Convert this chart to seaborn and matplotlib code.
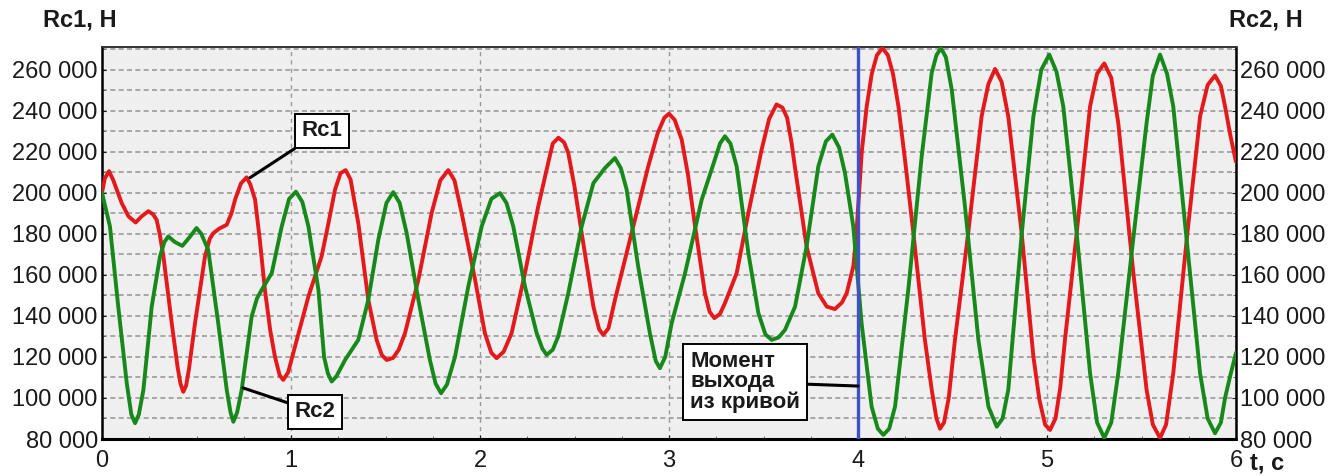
import matplotlib
matplotlib.use("Agg")
import matplotlib.pyplot as plt
import pandas as pd
import seaborn as sns
from matplotlib.ticker import FuncFormatter, MultipleLocator, FixedLocator

# ---------------- data ----------------
t_rc1 = [0.000, 0.015, 0.037, 0.060, 0.104, 0.140, 0.178, 0.210, 0.245, 0.270,
         0.289, 0.305, 0.325, 0.369, 0.400, 0.415, 0.430, 0.445, 0.460, 0.492,
         0.545, 0.570, 0.589, 0.620, 0.660, 0.685, 0.704, 0.735, 0.765, 0.785,
         0.810, 0.835, 0.862, 0.890, 0.915, 0.940, 0.959, 0.985, 1.021, 1.092,
         1.162, 1.200, 1.233, 1.262, 1.289, 1.315, 1.356, 1.409, 1.453, 1.480,
         1.506, 1.540, 1.570, 1.603, 1.674, 1.744, 1.790, 1.832, 1.865, 1.903,
         1.974, 2.026, 2.060, 2.088, 2.125, 2.167, 2.238, 2.308, 2.362, 2.385,
         2.415, 2.445, 2.467, 2.500, 2.538, 2.600, 2.630, 2.652, 2.680, 2.714,
         2.802, 2.890, 2.940, 2.975, 3.000, 3.030, 3.067, 3.100, 3.138, 3.190,
         3.215, 3.240, 3.270, 3.296, 3.358, 3.420, 3.490, 3.530, 3.569, 3.600,
         3.625, 3.649, 3.667, 3.728, 3.790, 3.835, 3.878, 3.915, 3.940, 3.975,
         3.990, 4.002, 4.020, 4.046, 4.073, 4.100, 4.129, 4.158, 4.185, 4.214,
         4.250, 4.293, 4.354, 4.390, 4.415, 4.434, 4.455, 4.480, 4.513, 4.583,
         4.654, 4.690, 4.725, 4.760, 4.795, 4.866, 4.928, 4.960, 4.990, 5.016,
         5.045, 5.070, 5.095, 5.157, 5.228, 5.265, 5.303, 5.340, 5.377, 5.457,
         5.527, 5.560, 5.598, 5.630, 5.668, 5.739, 5.810, 5.850, 5.889, 5.920,
         5.942, 5.970, 6.000]
rc1 = [200000, 207000, 210500, 206000, 195000, 188500, 185500, 188500, 191000, 189500,
       186800, 180000, 169000, 136400, 115000, 107000, 103000, 106000, 114000, 136400,
       169000, 177500, 180300, 182500, 184400, 190000, 196600, 204500, 207500, 204000,
       196600, 177000, 152700, 133000, 120100, 111000, 108800, 112500, 125000, 149400,
       169000, 186000, 201500, 209500, 211000, 206500, 185200, 147800, 128300, 121000,
       118500, 119500, 123500, 131500, 157600, 190100, 206000, 211000, 206000, 190100,
       157600, 131500, 122000, 119400, 122500, 131500, 160800, 193300, 215000, 224000,
       226800, 224500, 219400, 203000, 180300, 144500, 133500, 130700, 134000, 147800,
       180300, 212800, 229000, 236500, 238500, 235500, 225900, 209000, 183600, 151000,
       142000, 138900, 141000, 146200, 160800, 190100, 221000, 236000, 243000, 241500,
       236500, 224000, 212000, 173800, 151000, 144500, 143300, 146500, 151000, 164000,
       178000, 195000, 220000, 242100, 258000, 267000, 270500, 267000, 258000, 242100,
       215000, 180300, 128300, 104000, 90000, 85000, 88000, 100000, 128300, 180300,
       237200, 253000, 260300, 254000, 237200, 180300, 120100, 99000, 87000, 84400,
       90000, 105000, 128300, 180300, 242100, 258000, 263000, 256000, 234000, 160800,
       103900, 87000, 80500, 87000, 112000, 177100, 237200, 252500, 257100, 252000,
       242100, 228000, 215000]

t_rc2 = [0.000, 0.042, 0.086, 0.131, 0.155, 0.175, 0.195, 0.219, 0.263, 0.307,
         0.330, 0.351, 0.385, 0.425, 0.465, 0.500, 0.525, 0.562, 0.615, 0.660,
         0.680, 0.695, 0.715, 0.739, 0.792, 0.820, 0.845, 0.898, 0.951, 0.990,
         1.026, 1.060, 1.092, 1.145, 1.175, 1.195, 1.215, 1.240, 1.286, 1.356,
         1.409, 1.462, 1.505, 1.541, 1.575, 1.612, 1.674, 1.735, 1.765, 1.794,
         1.825, 1.868, 1.938, 2.009, 2.060, 2.106, 2.140, 2.176, 2.238, 2.300,
         2.330, 2.353, 2.385, 2.414, 2.467, 2.538, 2.600, 2.661, 2.714, 2.745,
         2.776, 2.837, 2.899, 2.930, 2.952, 2.980, 3.014, 3.085, 3.173, 3.235,
         3.270, 3.296, 3.325, 3.358, 3.420, 3.473, 3.510, 3.543, 3.580, 3.614,
         3.667, 3.728, 3.790, 3.830, 3.864, 3.900, 3.931, 3.975, 4.019, 4.072,
         4.105, 4.134, 4.165, 4.196, 4.266, 4.337, 4.390, 4.415, 4.439, 4.465,
         4.496, 4.566, 4.637, 4.690, 4.734, 4.765, 4.795, 4.866, 4.928, 4.970,
         5.012, 5.050, 5.086, 5.157, 5.228, 5.265, 5.303, 5.340, 5.377, 5.452,
         5.527, 5.560, 5.598, 5.635, 5.668, 5.739, 5.810, 5.850, 5.889, 5.920,
         5.942, 5.970, 6.000]
rc2 = [200000, 183600, 144500, 107200, 92000, 87700, 92000, 103900, 144500, 169000,
       176000, 178700, 176000, 174100, 178500, 182800, 180000, 172200, 136400, 103900,
       93000, 88400, 93000, 103900, 139700, 148500, 152700, 160800, 183600, 197000,
       200500, 195500, 183600, 152700, 120000, 112000, 108000, 110500, 118500, 128300,
       147800, 177100, 195000, 200300, 195000, 180300, 147800, 118500, 107000, 102300,
       106500, 120100, 154300, 183600, 197000, 199800, 195000, 183600, 154300, 131500,
       124000, 121000, 123500, 130000, 151000, 183600, 204700, 212000, 216900, 212000,
       201500, 164000, 131500, 118000, 114500, 120000, 136400, 160800, 196600, 214000,
       224000, 227500, 224000, 212800, 170600, 141300, 131000, 128300, 129500, 133200,
       144500, 173800, 212800, 225000, 228300, 222000, 209600, 183600, 136400, 95800,
       85000, 82000, 85000, 95800, 152700, 217700, 258400, 267000, 270500, 266000,
       250200, 193300, 128300, 95800, 86000, 90000, 103900, 179800, 237200, 260000,
       267300, 259000, 242100, 180300, 112000, 88000, 80500, 88000, 112000, 174000,
       234000, 257000, 267300, 258000, 242100, 177100, 112000, 90000, 82800, 88000,
       100000, 111000, 122000]

x_ticks = [0, 1, 2, 3, 4, 5, 6]
y_ticks = [80000, 100000, 120000, 140000, 160000, 180000, 200000, 220000, 240000, 260000]
exit_time = 4.0

# ---------------- style ----------------
sns.set_style("ticks")
plt.rcParams['font.family'] = ['Liberation Sans', 'DejaVu Sans']
plt.rcParams['lines.solid_joinstyle'] = 'round'

RED = '#e4191c'
GREEN = '#17891a'
BLUE = '#4050c8'
TXT = '#1a1a1a'

fig = plt.figure(figsize=(13.28, 4.76), dpi=100)
ax = fig.add_axes([102 / 1328, 1 - 439 / 476, (1236 - 102) / 1328, (439 - 47) / 476])
ax.set_facecolor('#efefef')

df1 = pd.DataFrame({'t': t_rc1, 'v': rc1})
df2 = pd.DataFrame({'t': t_rc2, 'v': rc2})
sns.lineplot(data=df1, x='t', y='v', color=RED, lw=2.8, ax=ax, sort=False, zorder=4)
sns.lineplot(data=df2, x='t', y='v', color=GREEN, lw=2.8, ax=ax, sort=False, zorder=4)
ax.axvline(exit_time, color=BLUE, lw=2.4, zorder=5)

ax.set_xlim(0, 6)
ax.set_ylim(80000, 271000)
ax.set_xlabel('')
ax.set_ylabel('')

ax.xaxis.set_major_locator(FixedLocator(x_ticks))
ax.xaxis.set_minor_locator(MultipleLocator(0.25))
ax.yaxis.set_major_locator(FixedLocator(y_ticks))
ax.yaxis.set_minor_locator(MultipleLocator(10000))
ax.yaxis.set_major_formatter(FuncFormatter(lambda v, p: f"{int(v):,}".replace(",", " ")))

ax.grid(axis='y', which='both', ls=(0, (3, 2)), color='#9a9a9a', lw=1.2, zorder=1)
ax.grid(axis='x', which='major', ls=(0, (3, 3)), color='#9a9a9a', lw=1.0, zorder=1)
ax.set_axisbelow(True)

ax.tick_params(axis='both', which='major', labelsize=17, colors=TXT, length=3,
               direction='in', right=True, labelright=True, left=True)
ax.tick_params(axis='x', which='major', pad=8)
ax.tick_params(axis='y', which='major', pad=3)
ax.tick_params(axis='both', which='minor', length=2, direction='in', color='#555555',
               right=True)

for s in ['left', 'right']:
    ax.spines[s].set_color('black')
    ax.spines[s].set_linewidth(1.8)
ax.spines['top'].set_color('#333333')
ax.spines['top'].set_linewidth(1.4)
ax.spines['bottom'].set_color('black')
ax.spines['bottom'].set_linewidth(2.2)
ax.spines['bottom'].set_linestyle((0, (2, 1)))

# axis titles
fig.text(80 / 1328, 1 - 20 / 476, 'Rc1, Н', fontsize=17, fontweight='bold',
         ha='center', va='center', color=TXT)
fig.text(1266 / 1328, 1 - 20 / 476, 'Rc2, Н', fontsize=17, fontweight='bold',
         ha='center', va='center', color=TXT)
fig.text(1250 / 1328, 1 - 463 / 476, 't, c', fontsize=17, fontweight='bold',
         ha='left', va='center', color=TXT)

box = dict(boxstyle='square,pad=0.3', fc='white', ec='black', lw=1.4)
arrow = dict(arrowstyle='-', color='black', lw=2.2, shrinkA=0, shrinkB=0)

ax.annotate('Rc1', xy=(0.783, 207300), xytext=(1.164, 230200), fontsize=16,
            fontweight='bold', ha='center', va='center', bbox=box, arrowprops=arrow,
            zorder=6, color=TXT)
ax.annotate('Rc2', xy=(0.746, 104900), xytext=(1.127, 93200), fontsize=16,
            fontweight='bold', ha='center', va='center', bbox=box, arrowprops=arrow,
            zorder=6, color=TXT)
ax.annotate('Момент\nвыхода\nиз кривой', xy=(exit_time, 105800), xytext=(3.402, 107800),
            fontsize=16, fontweight='bold', ha='center', va='center', multialignment='left',
            linespacing=0.95, bbox=box, arrowprops=arrow, zorder=6, color=TXT)

fig.savefig('out.png', dpi=100)
